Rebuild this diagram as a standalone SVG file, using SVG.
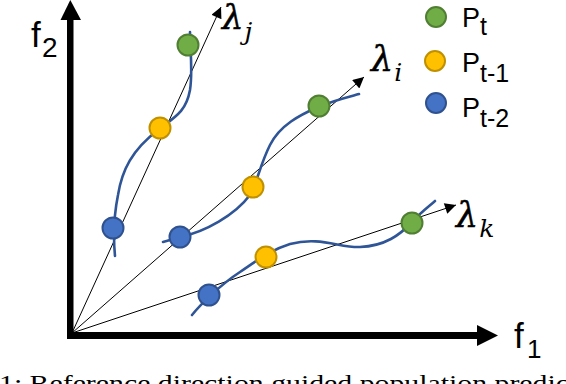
<svg xmlns="http://www.w3.org/2000/svg" width="566" height="384" viewBox="0 0 566 384">
<style>
.axl{font-family:"Liberation Sans",Arial,sans-serif;fill:#000}
.lam{font-family:"DejaVu Serif","Liberation Serif",serif;font-style:italic;fill:#000;stroke:#000;stroke-width:0.5}
.sub{stroke:none}
.ref{stroke:#000;stroke-width:1;fill:none}
.curve{stroke:#2F5597;stroke-width:2.6;fill:none;stroke-linecap:round}
.pt{stroke-width:2}
.g{fill:#70AD47;stroke:#507E32}
.y{fill:#FFC000;stroke:#BF9000}
.b{fill:#4472C4;stroke:#2F528F}
.cap{font-family:"Liberation Serif","Times New Roman",serif;fill:#000}
</style>
<defs>
<marker id="ah" viewBox="0 0 10 10" refX="10" refY="5" markerWidth="14" markerHeight="11" markerUnits="userSpaceOnUse" orient="auto">
<path d="M0,0 L10,5 L0,10 z" fill="#000"/>
</marker>
</defs>
<g id="axes">
<rect x="67" y="19" width="6.5" height="320" fill="#000"/>
<polygon points="60.5,20 70.3,0 81,20" fill="#000"/>
<rect x="67" y="332" width="411" height="7" fill="#000"/>
<polygon points="477,325 498,335.5 477,346" fill="#000"/>
<text class="axl" x="31" y="47" font-size="35">f</text>
<text class="axl" x="42" y="57" font-size="28">2</text>
<text class="axl" x="514" y="348" font-size="35">f</text>
<text class="axl" x="527" y="358" font-size="26">1</text>
</g>
<g id="connectors">
<line class="ref" x1="72" y1="333" x2="221" y2="7" marker-end="url(#ah)"/>
<line class="ref" x1="72" y1="333" x2="364" y2="77" marker-end="url(#ah)"/>
<line class="ref" x1="72" y1="333" x2="456" y2="205" marker-end="url(#ah)"/>
</g>
<g id="lambda-labels">
<text class="lam" x="222" y="29" font-size="34">λ<tspan class="sub" font-size="25" dx="1" dy="11">j</tspan></text>
<text class="lam" x="371" y="71" font-size="35">λ<tspan class="sub" font-size="25" dx="1" dy="10">i</tspan></text>
<text class="lam" x="456" y="227" font-size="35">λ<tspan class="sub" font-size="25" dx="1" dy="10">k</tspan></text>
</g>
<g id="curve-j">
<path class="curve" d="M115,256 C113,235 114,215 118,195 C122,170 132,150 158,130 C175,117 186,112 190,90 C193,70 190,50 190,32"/>
<circle class="pt b" cx="113" cy="228" r="10.5"/>
<circle class="pt y" cx="160" cy="128" r="10.5"/>
<circle class="pt g" cx="188" cy="45" r="10.5"/>
</g>
<g id="curve-i">
<path class="curve" d="M163,242 C170,240 175,239 180,237 C205,232 235,215 250,195 C258,180 260,165 270,145 C280,125 300,115 318,107 C335,100 348,97 359,94"/>
<circle class="pt b" cx="180" cy="237" r="10.5"/>
<circle class="pt y" cx="253" cy="187" r="10.5"/>
<circle class="pt g" cx="319" cy="106" r="10.5"/>
</g>
<g id="curve-k">
<path class="curve" d="M192,315 C200,305 220,285 240,272 C255,262 270,250 290,244 C320,236 340,248 360,247 C385,246 400,235 412,222 C420,213 428,207 435,201"/>
<circle class="pt b" cx="209" cy="295" r="10.5"/>
<circle class="pt y" cx="266" cy="257" r="10.5"/>
<circle class="pt g" cx="412" cy="223" r="10.5"/>
</g>
<g id="legend">
<circle class="pt g" cx="436" cy="17" r="10"/>
<circle class="pt y" cx="435" cy="61" r="10"/>
<circle class="pt b" cx="436" cy="103" r="10"/>
<text class="axl" x="462" y="27" font-size="27">P<tspan font-size="25" dy="8">t</tspan></text>
<text class="axl" x="462" y="72" font-size="27">P<tspan font-size="25" dy="10">t-1</tspan></text>
<text class="axl" x="462" y="117" font-size="27">P<tspan font-size="25" dy="10">t-2</tspan></text>
</g>
<text class="cap" x="-1" y="391" font-size="24" textLength="570" lengthAdjust="spacingAndGlyphs">1: Reference direction guided population predic</text>
</svg>
